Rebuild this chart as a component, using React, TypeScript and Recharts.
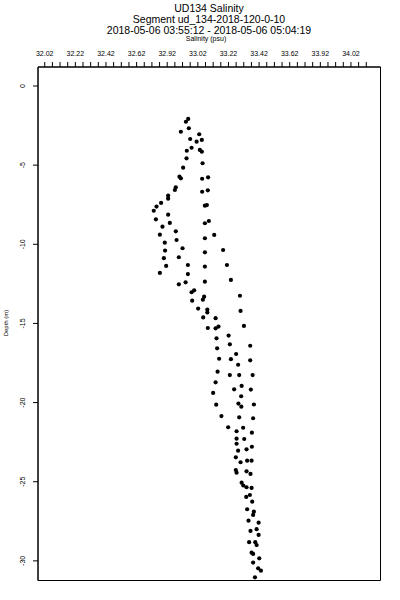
import React from "react";
import { ScatterChart, Scatter, XAxis, YAxis, ReferenceArea } from "recharts";

const salinity = [
  32.957, 32.942, 32.961, 32.909, 33.029, 32.970, 33.012, 33.046, 32.979, 32.948,
  33.033, 33.046, 32.946, 33.051, 32.924, 32.900, 32.909, 33.048, 33.087, 32.876,
  32.870, 33.048, 33.085, 32.826, 32.826, 32.780, 32.750, 32.732, 33.066, 33.079,
  32.826, 32.746, 33.092, 33.066, 32.837, 32.789, 33.127, 32.876, 32.772, 33.066,
  32.881, 32.804, 32.920, 33.185, 32.806, 33.066, 32.896, 32.798, 32.813, 32.955,
  33.210, 33.066, 32.772, 32.955, 33.236, 33.066, 32.940, 32.896, 32.996, 32.979,
  33.061, 33.053, 33.295, 32.983, 33.022, 33.082, 33.082, 33.299, 33.055, 33.136,
  33.085, 33.136, 33.155, 33.321, 33.221, 33.142, 33.229, 33.362, 33.146, 33.270,
  33.283, 33.159, 33.236, 33.362, 33.149, 33.229, 33.290, 33.378, 33.136, 33.306,
  33.257, 33.366, 33.120, 33.303, 33.140, 33.285, 33.304, 33.386, 33.174, 33.290,
  33.381, 33.218, 33.316, 33.273, 33.373, 33.273, 33.323, 33.273, 33.373, 33.283,
  33.338, 33.268, 33.299, 33.342, 33.371, 33.268, 33.273, 33.338, 33.364, 33.306,
  33.317, 33.338, 33.371, 33.360, 33.336, 33.375, 33.342, 33.386, 33.381, 33.351,
  33.417, 33.364, 33.404, 33.417, 33.355, 33.395, 33.404, 33.371, 33.381, 33.421,
  33.381, 33.414, 33.432, 33.393,
];

const depth = [
  -2.08, -2.26, -2.67, -2.89, -3.05, -3.35, -3.52, -3.41, -3.9, -4.09,
  -4.04, -4.15, -4.57, -4.88, -5.16, -5.73, -5.83, -5.86, -5.77, -6.4,
  -6.57, -6.68, -6.59, -6.93, -7.12, -7.39, -7.62, -7.88, -7.56, -7.52,
  -8.13, -8.42, -8.53, -8.67, -8.65, -8.89, -9.41, -9.18, -9.39, -9.62,
  -9.73, -9.9, -10.25, -10.36, -10.4, -10.51, -10.82, -10.88, -11.37, -11.31,
  -11.31, -11.41, -11.81, -11.88, -12.25, -12.36, -12.4, -12.53, -12.91, -13.03,
  -13.31, -13.5, -13.25, -13.56, -14.06, -14.12, -14.31, -14.21, -14.62, -14.67,
  -15.29, -15.31, -15.2, -15.16, -15.77, -15.94, -16.32, -16.41, -16.57, -16.93,
  -17.61, -17.23, -17.26, -17.33, -18.05, -18.26, -18.26, -18.26, -18.72, -18.95,
  -19.16, -19.18, -19.39, -19.6, -20.13, -20.06, -20.26, -20.12, -20.85, -20.93,
  -20.99, -21.56, -21.59, -21.81, -21.9, -22.28, -22.3, -22.6, -22.79, -23.04,
  -22.95, -23.46, -23.77, -23.67, -23.67, -24.26, -24.43, -24.34, -24.51, -25.06,
  -25.24, -25.35, -25.39, -25.84, -25.96, -26.26, -26.74, -26.89, -27.1, -27.46,
  -27.59, -28.11, -28.0, -28.36, -28.82, -28.82, -29.0, -29.48, -29.56, -29.84,
  -30.11, -30.47, -30.62, -31.04,
];

const xTicks = [
  32.02, 32.07, 32.12, 32.17, 32.22, 32.27, 32.32, 32.37, 32.42, 32.47, 32.52,
  32.57, 32.62, 32.67, 32.72, 32.77, 32.82, 32.87, 32.92, 32.97, 33.02, 33.07,
  33.12, 33.17, 33.22, 33.27, 33.32, 33.37, 33.42, 33.47, 33.52, 33.57, 33.62,
  33.67, 33.72, 33.77, 33.82, 33.87, 33.92, 33.97, 34.02, 34.07, 34.12,
];
const xMajorTicks = [32.02, 32.22, 32.42, 32.62, 32.82, 33.02, 33.22, 33.42, 33.62, 33.82, 34.02];
const xTickLabels = ["32.02", "32.22", "32.42", "32.62", "32.92", "33.02", "33.22", "33.42", "33.62", "33.92", "34.02"];

const yTicks = [0, -5, -10, -15, -20, -25, -30];
const yTickLabels = ["0", "-5", "-10", "-15", "-20", "-25", "-30"];

const titleLines = [
  "UD134 Salinity",
  "Segment ud_134-2018-120-0-10",
  "2018-05-06 03:55:12 - 2018-05-06 05:04:19",
];
const xAxisTitle = "Salinity (psu)";
const yAxisTitle = "Depth (m)";

const X_DOMAIN: [number, number] = [31.976, 34.213];
const Y_DOMAIN: [number, number] = [-31.24, 1.2];

const points = salinity.map((s, i) => ({ sal: s, depth: depth[i] }));

const FONT = "'Liberation Sans', Arial, Helvetica, sans-serif";

const XTick = (props: any) => {
  const { x, y, payload } = props;
  const idx = xMajorTicks.findIndex((v) => Math.abs(v - payload.value) < 1e-6);
  if (idx < 0) return <g />;
  return (
    <text x={x} y={y} textAnchor="middle" fontSize={7} fontFamily={FONT} fill="#000">
      {xTickLabels[idx]}
    </text>
  );
};

const YTick = (props: any) => {
  const { x, y, payload } = props;
  const idx = yTicks.findIndex((v) => Math.abs(v - payload.value) < 1e-6);
  if (idx < 0) return <g />;
  return (
    <text
      x={x}
      y={y}
      transform={`rotate(-90, ${x}, ${y})`}
      textAnchor="middle"
      dominantBaseline="central"
      fontSize={7}
      fontFamily={FONT}
      fill="#000"
    >
      {yTickLabels[idx]}
    </text>
  );
};

const Dot = (props: any) => {
  const { cx, cy } = props;
  if (cx == null || cy == null) return <g />;
  return <circle cx={cx} cy={cy} r={2.1} fill="#000" />;
};

export default function App() {
  return (
    <div style={{ position: "absolute", left: 0, top: 0, width: 400, height: 600, background: "#fff" }}>
      <ScatterChart
        width={400}
        height={600}
        margin={{ top: 27, right: 19.5, bottom: 19.5, left: 8 }}
      >
        <XAxis
          type="number"
          dataKey="sal"
          orientation="top"
          domain={X_DOMAIN}
          allowDataOverflow
          ticks={xTicks}
          interval={0}
          height={40}
          tickSize={5}
          tickMargin={6}
          stroke="#000"
          tickLine={{ stroke: "#000" }}
          tick={<XTick />}
        />
        <YAxis
          type="number"
          dataKey="depth"
          domain={Y_DOMAIN}
          allowDataOverflow
          ticks={yTicks}
          interval={0}
          width={30}
          tickSize={5}
          tickMargin={10}
          stroke="#000"
          tickLine={{ stroke: "#000" }}
          tick={<YTick />}
        />
        <ReferenceArea
          x1={X_DOMAIN[0]}
          x2={X_DOMAIN[1]}
          y1={Y_DOMAIN[0]}
          y2={Y_DOMAIN[1]}
          fill="none"
          fillOpacity={0}
          stroke="#000"
          strokeWidth={1}
          ifOverflow="visible"
        />
        <Scatter data={points} fill="#000" shape={<Dot />} isAnimationActive={false} />
      </ScatterChart>
      <svg
        width={400}
        height={600}
        style={{ position: "absolute", left: 0, top: 0, pointerEvents: "none" }}
      >
        <text x={209} y={11.8} textAnchor="middle" fontSize={10.5} fontFamily={FONT} fill="#000">
          {titleLines[0]}
        </text>
        <text x={209} y={22.8} textAnchor="middle" fontSize={10.5} fontFamily={FONT} fill="#000">
          {titleLines[1]}
        </text>
        <text x={209} y={33.8} textAnchor="middle" fontSize={10.5} fontFamily={FONT} fill="#000">
          {titleLines[2]}
        </text>
        <text x={206} y={40.5} textAnchor="middle" fontSize={7} fontFamily={FONT} fill="#000">
          {xAxisTitle}
        </text>
        <text
          x={6}
          y={323}
          transform="rotate(-90, 6, 323)"
          textAnchor="middle"
          dominantBaseline="central"
          fontSize={6}
          fontFamily={FONT}
          fill="#000"
        >
          {yAxisTitle}
        </text>
      </svg>
    </div>
  );
}
